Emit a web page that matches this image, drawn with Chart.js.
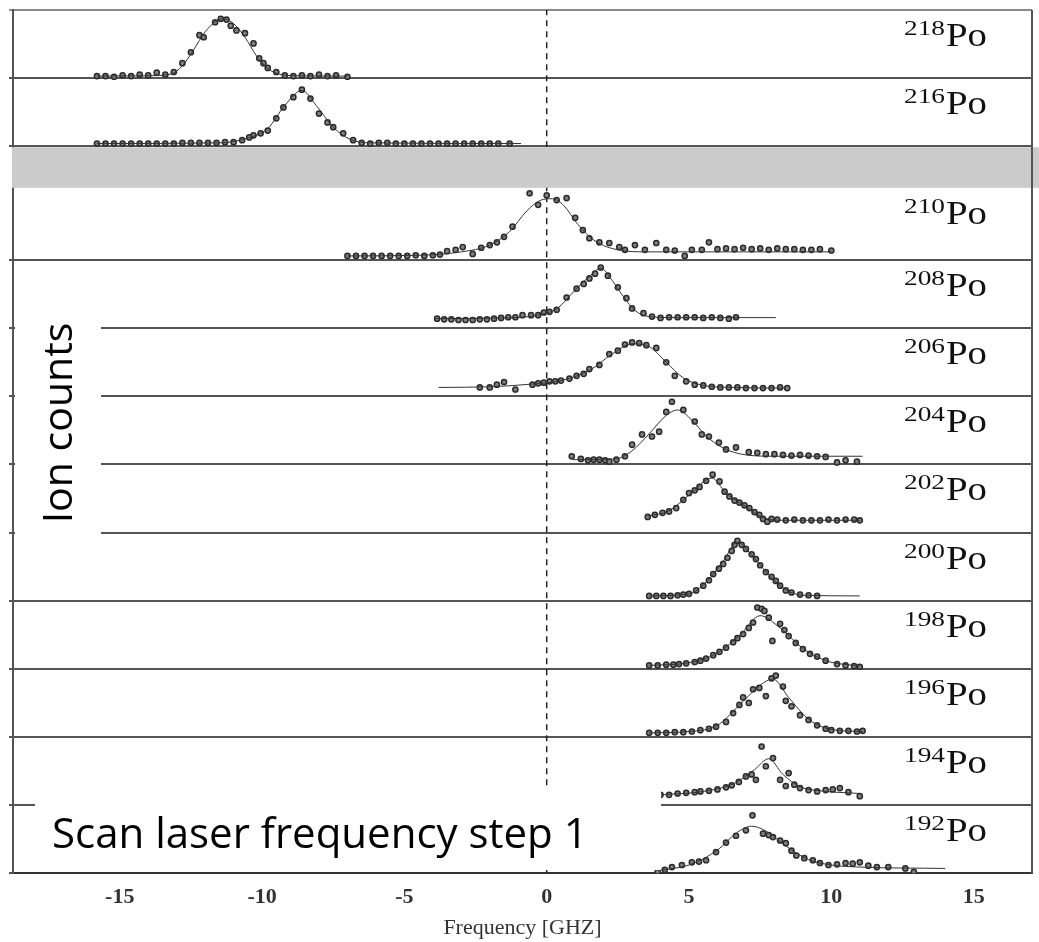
<!DOCTYPE html>
<html>
<head>
<meta charset="utf-8">
<script src="https://cdn.jsdelivr.net/npm/chart.js@4.4.1/dist/chart.umd.min.js"></script>
<style>
  html, body { margin: 0; padding: 0; background: #fff; }
  #wrap { position: relative; width: 1039px; height: 942px; }
</style>
</head>
<body>
<div id="wrap"><canvas id="chart"></canvas></div>
<script>
// ---- data: [frequency GHz, ion counts (fraction of panel height)] ----
const isotopes = ['218', '216', '210', '208', '206', '204', '202', '200', '198', '196', '194', '192'];
const freqTicks = [-15, -10, -5, 0, 5, 10, 15];

const po218 = [[-15.8,.03],[-15.5,.03],[-15.2,.02],[-14.9,.04],[-14.6,.03],[-14.3,.05],[-14.0,.04],[-13.7,.08],[-13.4,.05],[-13.1,.09],[-12.8,.22],[-12.5,.38],[-12.2,.63],[-12.05,.6],[-11.65,.82],[-11.45,.87],[-11.25,.86],[-11.1,.77],[-10.9,.70],[-10.6,.66],[-10.3,.51],[-10.1,.29],[-9.95,.22],[-9.8,.15],[-9.5,.09],[-9.2,.04],[-8.9,.03],[-8.6,.04],[-8.3,.03],[-8.0,.05],[-7.7,.03],[-7.4,.04],[-7.0,.02]];
const po218Fit = [[-15.8,.03],[-14,.035],[-13.2,.06],[-12.8,.18],[-12.4,.42],[-12,.68],[-11.6,.84],[-11.35,.87],[-11,.8],[-10.6,.6],[-10.2,.33],[-9.8,.14],[-9.4,.06],[-8.8,.035],[-7,.03]];

const po216 = [[-15.8,.04],[-15.5,.04],[-15.2,.04],[-14.9,.04],[-14.6,.04],[-14.3,.04],[-14.0,.04],[-13.7,.04],[-13.4,.04],[-13.1,.04],[-12.8,.05],[-12.5,.05],[-12.2,.05],[-11.9,.05],[-11.6,.05],[-11.3,.06],[-11.0,.06],[-10.7,.09],[-10.45,.13],[-10.3,.16],[-10.05,.19],[-9.8,.23],[-9.5,.41],[-9.25,.57],[-8.9,.72],[-8.6,.83],[-8.3,.70],[-8.0,.48],[-7.7,.35],[-7.5,.28],[-7.15,.19],[-6.8,.09],[-6.5,.05],[-6.2,.04],[-5.9,.05],[-5.6,.05],[-5.3,.04],[-5.0,.04],[-4.7,.04],[-4.4,.04],[-4.1,.04],[-3.8,.04],[-3.5,.04],[-3.2,.04],[-2.9,.04],[-2.6,.04],[-2.3,.04],[-2.0,.04],[-1.7,.04],[-1.3,.04]];
const po216Fit = [[-15.8,.04],[-11.5,.05],[-10.5,.12],[-9.8,.26],[-9.2,.6],[-8.6,.82],[-8.1,.6],[-7.5,.28],[-6.9,.1],[-6.2,.05],[-0.9,.04]];

const po210 = [[-7.0,.06],[-6.7,.06],[-6.4,.06],[-6.1,.06],[-5.8,.06],[-5.5,.06],[-5.2,.06],[-4.9,.06],[-4.6,.07],[-4.3,.06],[-4.0,.07],[-3.75,.08],[-3.5,.13],[-3.2,.15],[-2.95,.19],[-2.6,.09],[-2.3,.18],[-2.0,.22],[-1.75,.26],[-1.5,.34],[-1.2,.49],[-0.6,.98],[-0.3,.81],[0.0,.95],[0.35,.88],[0.7,.91],[1.0,.62],[1.27,.44],[1.5,.32],[1.85,.26],[2.2,.25],[2.55,.19],[2.75,.15],[3.1,.22],[3.45,.15],[3.85,.25],[4.2,.15],[4.5,.14],[4.85,.06],[5.1,.15],[5.45,.15],[5.7,.26],[6.0,.16],[6.3,.17],[6.6,.16],[6.9,.18],[7.2,.16],[7.5,.17],[7.8,.15],[8.1,.17],[8.4,.16],[8.7,.16],[9.0,.15],[9.3,.15],[9.6,.16],[10.0,.14]];
const po210Fit = [[-7,.06],[-4.5,.07],[-3,.12],[-2,.22],[-1.3,.42],[-0.7,.72],[-0.2,.88],[0.2,.9],[0.6,.8],[1.1,.52],[1.7,.28],[2.5,.15],[3.5,.12],[5,.12],[10,.12]];

const po208 = [[-3.85,.14],[-3.6,.13],[-3.35,.13],[-3.1,.12],[-2.85,.12],[-2.6,.12],[-2.35,.13],[-2.1,.13],[-1.85,.14],[-1.6,.15],[-1.35,.16],[-1.1,.16],[-0.85,.19],[-0.55,.19],[-0.3,.19],[-0.1,.23],[0.1,.24],[0.35,.27],[0.7,.45],[1.05,.58],[1.3,.65],[1.5,.73],[1.7,.80],[1.9,.89],[2.15,.77],[2.5,.60],[2.8,.44],[3.0,.29],[3.4,.22],[3.7,.17],[4.0,.15],[4.3,.16],[4.6,.16],[4.9,.16],[5.2,.16],[5.5,.15],[5.8,.16],[6.1,.15],[6.4,.14],[6.65,.16]];
const po208Fit = [[-3.9,.14],[-1.5,.15],[-0.2,.2],[0.4,.3],[1,.56],[1.5,.76],[1.9,.88],[2.3,.7],[2.7,.46],[3.1,.26],[3.6,.17],[4.5,.155],[8.05,.155]];

const po206 = [[-2.35,.13],[-2.0,.13],[-1.75,.17],[-1.5,.21],[-1.1,.10],[-0.5,.17],[-0.3,.19],[-0.1,.2],[0.1,.22],[0.3,.22],[0.5,.23],[0.8,.26],[1.05,.30],[1.3,.33],[1.5,.40],[1.85,.46],[2.2,.62],[2.5,.67],[2.75,.76],[3.0,.79],[3.25,.78],[3.5,.75],[3.85,.71],[4.2,.50],[4.5,.30],[4.9,.22],[5.2,.17],[5.5,.16],[5.8,.14],[6.1,.13],[6.4,.13],[6.7,.13],[7.0,.12],[7.3,.12],[7.6,.12],[7.9,.12],[8.2,.13],[8.45,.12]];
const po206Fit = [[-3.8,.13],[-2,.14],[-0.5,.18],[0.5,.23],[1.5,.38],[2.3,.62],[3,.77],[3.6,.73],[4.2,.5],[4.8,.27],[5.5,.16],[6.5,.13],[8.4,.12]];

const po204 = [[0.88,.12],[1.2,.08],[1.45,.06],[1.65,.07],[1.85,.07],[2.05,.06],[2.2,.04],[2.45,.07],[2.75,.12],[3.0,.29],[3.35,.44],[3.7,.41],[3.95,.48],[4.2,.77],[4.4,.92],[4.8,.80],[5.2,.63],[5.45,.44],[5.7,.41],[6.05,.32],[6.3,.22],[6.65,.25],[7.1,.18],[7.4,.17],[7.7,.15],[8.0,.15],[8.3,.14],[8.6,.13],[8.9,.14],[9.2,.13],[9.5,.12],[9.8,.11],[10.2,.03],[10.5,.06],[10.9,.04]];
const po204Fit = [[0.9,.07],[2.4,.08],[3,.2],[3.6,.45],[4.2,.72],[4.6,.8],[5.1,.65],[5.6,.42],[6.2,.24],[7,.14],[8,.12],[11.1,.12]];

const po202 = [[3.55,.23],[3.8,.26],[4.07,.29],[4.3,.31],[4.55,.36],[4.8,.48],[5.0,.58],[5.2,.62],[5.37,.67],[5.6,.76],[5.83,.85],[6.07,.75],[6.25,.60],[6.42,.53],[6.6,.47],[6.77,.44],[6.95,.40],[7.12,.36],[7.3,.30],[7.47,.26],[7.6,.20],[7.75,.16],[7.9,.20],[8.1,.19],[8.4,.18],[8.7,.19],[9.0,.18],[9.3,.18],[9.6,.18],[9.9,.19],[10.2,.18],[10.5,.19],[10.8,.19],[11.0,.18]];
const po202Fit = [[3.55,.24],[4.3,.32],[5,.55],[5.8,.8],[6.3,.58],[7,.38],[7.6,.22],[8.2,.18],[11,.18]];

const po200 = [[3.6,.07],[3.85,.07],[4.1,.07],[4.35,.07],[4.6,.08],[4.8,.09],[5.0,.10],[5.25,.15],[5.5,.22],[5.7,.30],[5.85,.39],[6.05,.47],[6.2,.54],[6.35,.63],[6.5,.73],[6.6,.82],[6.7,.88],[6.85,.82],[7.0,.76],[7.2,.68],[7.35,.61],[7.5,.52],[7.7,.42],[7.9,.35],[8.05,.29],[8.2,.22],[8.4,.15],[8.6,.12],[8.9,.09],[9.2,.08],[9.5,.07]];
const po200Fit = [[3.6,.07],[5,.1],[5.6,.27],[6.2,.58],[6.7,.86],[7.2,.67],[7.8,.38],[8.4,.16],[9,.08],[11,.07]];

const po198 = [[3.6,.05],[3.9,.05],[4.2,.06],[4.45,.06],[4.65,.07],[4.9,.08],[5.2,.10],[5.4,.12],[5.6,.15],[5.85,.2],[6.07,.25],[6.3,.31],[6.55,.39],[6.7,.45],[6.9,.51],[7.1,.6],[7.25,.68],[7.4,.90],[7.55,.88],[7.65,.85],[7.8,.75],[7.93,.41],[8.2,.66],[8.35,.57],[8.5,.48],[8.75,.38],[9.0,.29],[9.25,.22],[9.5,.18],[9.8,.12],[10.2,.07],[10.5,.05],[10.8,.04],[11.0,.03]];
const po198Fit = [[3.6,.05],[5,.09],[6,.23],[6.8,.5],[7.5,.78],[8.2,.6],[9,.3],[9.8,.12],[11,.04]];

const po196 = [[3.6,.06],[3.9,.06],[4.2,.06],[4.5,.07],[4.8,.07],[5.1,.08],[5.4,.1],[5.7,.12],[5.95,.15],[6.3,.22],[6.55,.35],[6.77,.47],[6.9,.58],[7.1,.5],[7.25,.7],[7.47,.72],[7.7,.6],[7.9,.86],[8.05,.9],[8.3,.74],[8.4,.53],[8.6,.45],[8.9,.32],[9.2,.25],[9.5,.17],[9.8,.12],[10.0,.10],[10.3,.09],[10.6,.09],[10.9,.08],[11.1,.09]];
const po196Fit = [[3.6,.06],[5,.08],[6,.17],[6.8,.48],[7.5,.76],[7.95,.85],[8.5,.58],[9.2,.26],[10,.11],[11.1,.08]];

const po194 = [[4.0,.15],[4.3,.15],[4.6,.17],[4.9,.18],[5.2,.19],[5.4,.20],[5.7,.21],[6.0,.23],[6.3,.26],[6.5,.29],[6.75,.34],[7.0,.42],[7.2,.45],[7.35,.37],[7.55,.86],[7.7,.57],[7.95,.69],[8.2,.37],[8.4,.28],[8.5,.47],[8.7,.30],[8.9,.25],[9.2,.22],[9.5,.20],[9.8,.22],[10.05,.23],[10.3,.25],[10.6,.19],[11.0,.13]];
const po194Fit = [[4,.15],[5.5,.2],[6.6,.32],[7.3,.52],[7.8,.68],[8.3,.45],[8.9,.27],[9.6,.21],[11,.17]];

const po192 = [[3.9,.02],[4.15,.05],[4.4,.09],[4.75,.12],[5.1,.16],[5.35,.17],[5.6,.19],[5.95,.31],[6.3,.45],[6.65,.55],[7.0,.63],[7.23,.85],[7.6,.58],[7.8,.56],[7.95,.53],[8.2,.48],[8.4,.44],[8.6,.33],[8.77,.26],[9.05,.22],[9.35,.19],[9.6,.15],[9.9,.12],[10.2,.13],[10.5,.15],[10.75,.14],[11.0,.16],[11.3,.11],[11.6,.09],[12.0,.09],[12.6,.07],[12.9,.02]];
const po192Fit = [[3.9,.04],[5,.12],[6,.34],[6.7,.6],[7.2,.69],[7.7,.62],[8.4,.4],[9.2,.2],[10,.12],[11,.09],[14,.07]];

const scans = [po218, po216, po210, po208, po206, po204, po202, po200, po198, po196, po194, po192];
const fits = [po218Fit, po216Fit, po210Fit, po208Fit, po206Fit, po204Fit, po202Fit, po200Fit, po198Fit, po196Fit, po194Fit, po192Fit];

// ---- panel layout (y units, one unit = one panel) ----
const Y_MAX = 12.67;
const BAND_BOTTOM = 10.06;
const BAND_TOP = 10.67;

function panelBase(i) {
    if (i === 0) return 11.67;
    if (i === 1) return 10.67;
    return 11 - i;
}
function panelTop(i) {
    if (i === 0) return Y_MAX;
    if (i === 1) return 11.67;
    if (i === 2) return BAND_BOTTOM;
    return panelBase(i) + 1;
}

const datasets = [];
scans.forEach((scan, i) => {
    datasets.push({
        data: fits[i].map(([f, v]) => ({ x: f, y: panelBase(i) + v })),
        showLine: true,
        pointRadius: 0,
        borderWidth: 1,
        borderColor: '#333',
        cubicInterpolationMode: 'monotone'
    });
    datasets.push({
        data: scan.map(([f, v]) => ({ x: f, y: panelBase(i) + v })),
        showLine: false,
        pointRadius: 2.6,
        pointBorderWidth: 1.5,
        pointBorderColor: '#2a2a2a',
        pointBackgroundColor: '#808080'
    });
});
// zero frequency marker
datasets.push({
    data: [{ x: 0, y: 0 }, { x: 0, y: Y_MAX }],
    showLine: true,
    pointRadius: 0,
    borderWidth: 1.5,
    borderColor: '#222',
    borderDash: [6, 5]
});

function stretchText(ctx, text, x, yBase, width, font) {
    ctx.font = font;
    const w = ctx.measureText(text).width;
    ctx.save();
    ctx.translate(x, yBase);
    ctx.scale(width / w, 1);
    ctx.fillText(text, 0, 0);
    ctx.restore();
}

const overlay = {
    id: 'overlay',
    afterDatasetsDraw(chart) {
        const { ctx, chartArea: a, scales: { y } } = chart;
        ctx.save();

        // grey gap between 216Po and 210Po
        const gTop = y.getPixelForValue(BAND_TOP);
        const gBot = y.getPixelForValue(BAND_BOTTOM);
        ctx.fillStyle = '#cbcbcb';
        ctx.fillRect(a.left - 1, gTop + 1, chart.width - a.left + 1, gBot - gTop - 1);

        // right frame
        ctx.strokeStyle = '#555';
        ctx.lineWidth = 2;
        ctx.beginPath();
        ctx.moveTo(a.right, a.top);
        ctx.lineTo(a.right, a.bottom);
        ctx.stroke();

        // isotope labels
        ctx.fillStyle = '#111';
        ctx.textAlign = 'left';
        ctx.textBaseline = 'alphabetic';
        isotopes.forEach((iso, i) => {
            const base = y.getPixelForValue(panelTop(i)) + 36;
            stretchText(ctx, 'Po', 946, base, 41, '34px "Liberation Serif"');
            stretchText(ctx, iso, 904, base - 11, 41, '21px "Liberation Serif"');
        });

        // pasted-on annotations
        ctx.fillStyle = '#fff';
        ctx.fillRect(a.left + 2, 295, 101 - a.left - 2, 250);
        ctx.fillRect(35, 790, 626, 80);

        ctx.fillStyle = '#000';
        ctx.font = '42px "Open Sans"';
        ctx.fillText('Scan laser frequency step 1', 52, 848);

        ctx.translate(60, 423);
        ctx.rotate(-Math.PI / 2);
        ctx.textAlign = 'center';
        ctx.textBaseline = 'middle';
        ctx.font = '41px "Open Sans"';
        ctx.fillText('Ion counts', 0, 0);

        ctx.restore();
    }
};

new Chart(document.getElementById('chart'), {
    type: 'scatter',
    data: { datasets },
    options: {
        responsive: true,
        maintainAspectRatio: false,
        animation: false,
        layout: { padding: { left: 9, right: 7, top: 10, bottom: 0 } },
        plugins: {
            legend: { display: false },
            tooltip: { enabled: false }
        },
        scales: {
            x: {
                type: 'linear',
                min: -18.75,
                max: 17.05,
                afterBuildTicks: scale => { scale.ticks = freqTicks.map(v => ({ value: v })); },
                grid: { drawOnChartArea: false, drawTicks: false },
                border: { display: true, color: '#333', width: 2 },
                ticks: {
                    padding: 11,
                    color: '#333',
                    font: { family: '"Liberation Serif", "Times New Roman", serif', size: 22, weight: 'bold' }
                },
                title: {
                    display: true,
                    text: 'Frequency [GHZ]',
                    color: '#333',
                    padding: { top: -7, bottom: 1 },
                    font: { family: '"Liberation Serif", "Times New Roman", serif', size: 22 }
                }
            },
            y: {
                type: 'linear',
                min: 0,
                max: Y_MAX,
                afterBuildTicks: scale => {
                    scale.ticks = [0, 1, 2, 3, 4, 5, 6, 7, 8, 9, BAND_TOP, 11.67, Y_MAX].map(v => ({ value: v }));
                },
                grid: {
                    color: c => (c.tick && c.tick.value >= Y_MAX - 0.01) ? '#8a8a8a' : '#555',
                    lineWidth: 2,
                    drawTicks: true,
                    tickLength: 4
                },
                border: { display: true, color: '#555', width: 2 },
                ticks: { display: false }
            }
        }
    },
    plugins: [overlay]
});
</script>
</body>
</html>
